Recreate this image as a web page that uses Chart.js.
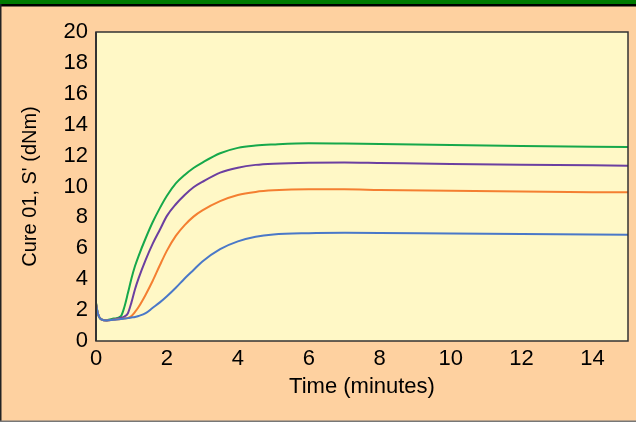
<!DOCTYPE html>
<html>
<head>
<meta charset="utf-8">
<script src="https://cdn.jsdelivr.net/npm/chart.js@4/dist/chart.umd.min.js"></script>
<style>
  html, body { margin: 0; padding: 0; background: #fed1a0; }
  #wrap { width: 636px; height: 422px; position: relative; }
</style>
</head>
<body>
<div id="wrap"><canvas id="grafico" width="636" height="422"></canvas></div>
<script>
// tempos (min) e valores de S'
const tempos = [0, 0.05, 0.15, 0.3, 0.5, 0.7, 0.8, 0.9, 1.0, 1.1, 1.2, 1.4, 1.6, 1.8, 2.0, 2.25, 2.5, 2.75, 3.0, 3.5, 4.0, 4.5, 5, 6, 7, 8, 10, 12, 15];
const verde   = [2.5, 1.8, 1.4, 1.35, 1.45, 1.6, 2.2, 3.1, 4.05, 4.85, 5.5, 6.65, 7.7, 8.6, 9.4, 10.2, 10.75, 11.2, 11.55, 12.15, 12.5, 12.65, 12.72, 12.8, 12.78, 12.75, 12.68, 12.62, 12.55];
const roxo    = [2.4, 1.8, 1.4, 1.33, 1.4, 1.5, 1.58, 1.8, 2.5, 3.35, 4.05, 5.25, 6.3, 7.2, 8.1, 8.85, 9.45, 9.95, 10.3, 10.9, 11.22, 11.4, 11.48, 11.54, 11.55, 11.52, 11.46, 11.41, 11.35];
const laranja = [2.4, 1.8, 1.4, 1.33, 1.38, 1.43, 1.46, 1.5, 1.62, 1.88, 2.2, 3.0, 3.9, 4.9, 5.85, 6.8, 7.5, 8.05, 8.45, 9.05, 9.45, 9.65, 9.75, 9.82, 9.82, 9.78, 9.72, 9.67, 9.62];
const azul    = [2.4, 1.8, 1.4, 1.33, 1.38, 1.42, 1.45, 1.48, 1.52, 1.56, 1.62, 1.8, 2.15, 2.5, 2.9, 3.45, 4.05, 4.6, 5.15, 5.95, 6.45, 6.75, 6.9, 6.98, 7.0, 6.99, 6.95, 6.92, 6.88];
const ticksX = [0, 2, 4, 6, 8, 10, 12, 14];
const ticksY = [0, 2, 4, 6, 8, 10, 12, 14, 16, 18, 20];

function pontos(valores) {
  return tempos.map((t, i) => ({ x: t, y: valores[i] }));
}

function serie(valores, cor) {
  return {
    data: pontos(valores),
    borderColor: cor,
    borderWidth: 2,
    pointRadius: 0,
    fill: false,
    cubicInterpolationMode: 'monotone'
  };
}

// fundo, faixa verde e moldura
const moldura = {
  id: 'moldura',
  beforeDraw(chart) {
    const c = chart.ctx;
    const a = chart.chartArea;
    c.save();
    c.fillStyle = '#fed1a0';
    c.fillRect(0, 0, chart.width, chart.height);
    c.fillStyle = '#007a00';
    c.fillRect(0, 0, chart.width, 4);
    c.fillStyle = '#000';
    c.fillRect(0, 4, chart.width, 2.5);
    c.fillStyle = '#222';
    c.fillRect(0, 4, 1.5, chart.height);
    c.fillStyle = '#777';
    c.fillRect(0, chart.height - 1.5, chart.width, 1.5);
    c.fillStyle = '#fff8c6';
    c.fillRect(a.left, a.top, a.right - a.left, a.bottom - a.top);
    c.restore();
  },
  afterDraw(chart) {
    const c = chart.ctx;
    const a = chart.chartArea;
    c.save();
    c.strokeStyle = '#333';
    c.lineWidth = 1.5;
    c.strokeRect(a.left, a.top, a.right - a.left, a.bottom - a.top);
    c.lineWidth = 2;
    c.beginPath();
    c.moveTo(a.left, a.top);
    c.lineTo(a.left, a.bottom);
    c.stroke();
    c.restore();
  }
};

const fonteTicks = { family: 'Liberation Sans', size: 22 };
const fonteX = { family: 'Liberation Sans', size: 22 };
const fonteY = { family: 'Liberation Sans', size: 20 };

new Chart(document.getElementById('grafico'), {
  type: 'line',
  data: {
    datasets: [
      serie(azul, '#4a78c8'),
      serie(laranja, '#f47f31'),
      serie(roxo, '#6b3fa0'),
      serie(verde, '#16a84b')
    ]
  },
  options: {
    responsive: false,
    animation: false,
    layout: { padding: { left: 4, right: 8, top: 32, bottom: 3 } },
    plugins: { legend: { display: false }, tooltip: { enabled: false } },
    scales: {
      x: {
        type: 'linear',
        min: 0,
        max: 15,
        afterBuildTicks: (s) => { s.ticks = ticksX.map(v => ({ value: v })); },
        afterFit: (s) => { s.height = 78; },
        grid: { display: false, drawTicks: false },
        border: { display: false },
        ticks: { color: '#000', font: fonteTicks, padding: 5, maxRotation: 0 },
        title: { display: true, text: 'Time (minutes)', color: '#000', font: fonteX, padding: { top: 0, bottom: 19 } }
      },
      y: {
        type: 'linear',
        min: 0,
        max: 20,
        afterBuildTicks: (s) => { s.ticks = ticksY.map(v => ({ value: v })); },
        afterFit: (s) => { s.width = 92; },
        grid: { display: false, drawTicks: false },
        border: { display: false },
        ticks: { color: '#000', font: fonteTicks, padding: 8 },
        title: { display: true, text: "Cure 01, S' (dNm)", color: '#000', font: fonteY, padding: { top: 14, bottom: 0 } }
      }
    }
  },
  plugins: [moldura]
});
</script>
</body>
</html>
